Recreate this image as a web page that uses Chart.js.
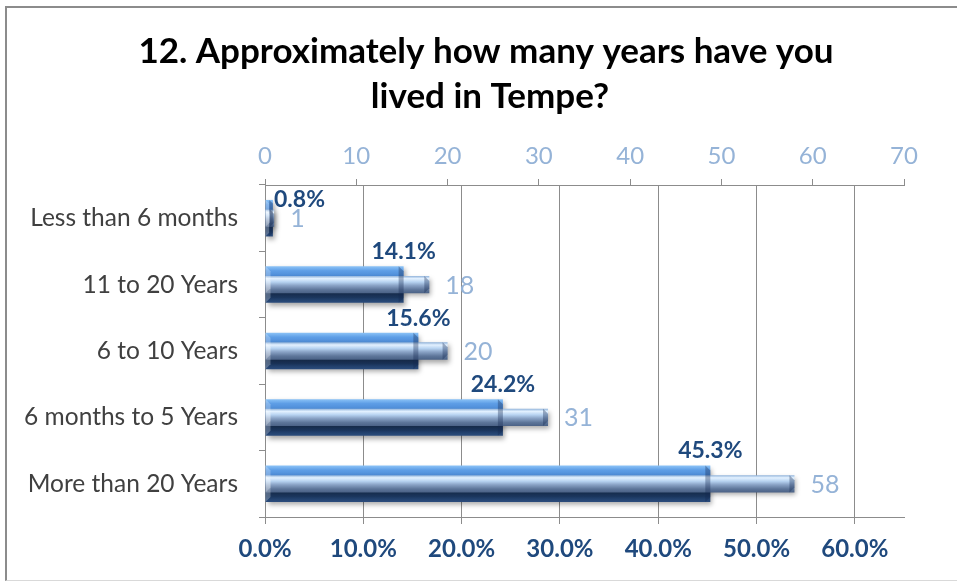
<!DOCTYPE html>
<html><head><meta charset="utf-8">
<script src="https://cdn.jsdelivr.net/npm/chart.js@4.4.0/dist/chart.umd.min.js"></script>
<style>
html,body{margin:0;padding:0;background:#fff;}
#wrap{position:relative;width:957px;height:582px;overflow:hidden;background:#fff;}
#frame{position:absolute;left:5px;top:6px;width:1000px;height:572px;border-left:2px solid #8c8c8c;border-top:2px solid #8c8c8c;border-bottom:1px solid #d9d9d9;}
canvas{position:absolute;left:0;top:0;}
</style></head><body>
<div id="wrap"><div id="frame"></div><canvas id="c" width="957" height="582"></canvas></div>
<script>
const categories = ['Less than 6 months', '11 to 20 Years', '6 to 10 Years', '6 months to 5 Years', 'More than 20 Years'];
const percentValues = [0.8, 14.1, 15.6, 24.2, 45.3];
const countValues = [1, 18, 20, 31, 58];
const percentTicks = [0, 10, 20, 30, 40, 50, 60];
const countTicks = [0, 10, 20, 30, 40, 50, 60, 70];
const titleLines = ['12. Approximately how many years have you', 'lived in Tempe?'];

const PCT_BAR = 0.55, CNT_BAR = 0.26;

function barGradient(stops, frac) {
  return (ctx) => {
    const chart = ctx.chart, area = chart.chartArea, ys = chart.scales.y;
    if (!area || !ys || ctx.dataIndex === undefined) return stops[stops.length - 1][1];
    const yc = ys.getPixelForValue(ctx.dataIndex);
    const h = (area.bottom - area.top) / categories.length * frac;
    const g = chart.ctx.createLinearGradient(0, yc - h / 2, 0, yc + h / 2);
    stops.forEach(s => g.addColorStop(s[0], s[1]));
    return g;
  };
}

const pctStops = [[0, '#8cc3f7'], [0.12, '#5e9ee6'], [0.3, '#4a88d4'], [0.42, '#2f5f9c'], [0.6, '#213f6c'], [0.85, '#1d3a64'], [1, '#2b4c7c']];
const cntStops = [[0, '#8fb2da'], [0.15, '#e3f1ff'], [0.35, '#b7d3f1'], [0.55, '#8aa3c6'], [0.8, '#5d7599'], [1, '#4b6286']];

const titlePlugin = {
  id: 'customTitle',
  afterDraw(chart) {
    const c = chart.ctx;
    c.save();
    c.font = 'bold 35px Lato'; c.fillStyle = '#000'; c.textAlign = 'center'; c.textBaseline = 'middle';
    c.fillText(titleLines[0], 486, 52);
    c.fillText(titleLines[1], 490, 97);
    c.restore();
  }
};

const shadowPlugin = {
  id: 'shadow',
  beforeDatasetsDraw(chart) {
    const c = chart.ctx; c.save();
    c.shadowColor = 'rgba(0,0,0,0.35)'; c.shadowBlur = 5; c.shadowOffsetX = 2; c.shadowOffsetY = 3;
  },
  afterDatasetsDraw(chart) { chart.ctx.restore(); }
};

const bevelPlugin = {
  id: 'bevel',
  afterDatasetsDraw(chart) {
    const c = chart.ctx;
    [0, 1].forEach(di => {
      chart.getDatasetMeta(di).data.forEach(el => {
        const top = el.y - el.height / 2, bot = el.y + el.height / 2;
        const b = Math.min(5, el.height / 3, Math.max(0, (el.x - el.base) / 2));
        c.save();
        c.fillStyle = 'rgba(20,40,80,0.35)';
        c.beginPath(); c.moveTo(el.x - b, top); c.lineTo(el.x, top + b); c.lineTo(el.x, bot - b); c.lineTo(el.x - b, bot); c.closePath(); c.fill();
        c.fillStyle = 'rgba(255,255,255,0.25)';
        c.beginPath(); c.moveTo(el.base, top); c.lineTo(el.base + b, top + b); c.lineTo(el.base + b, bot - b); c.lineTo(el.base, bot); c.closePath(); c.fill();
        c.restore();
      });
    });
  }
};

const labelPlugin = {
  id: 'barLabels',
  afterDatasetsDraw(chart) {
    const c = chart.ctx, area = chart.chartArea;
    const pm = chart.getDatasetMeta(0), cm = chart.getDatasetMeta(1);
    c.save();
    c.font = 'bold 23px Lato'; c.fillStyle = '#1f497d'; c.textAlign = 'center'; c.textBaseline = 'bottom';
    pm.data.forEach((el, i) => {
      const txt = percentValues[i].toFixed(1) + '%';
      const w = c.measureText(txt).width;
      let x = el.x; if (x - w / 2 < area.left + 9) x = area.left + 9 + w / 2;
      let y = el.y - el.height / 2 - 3; y = Math.max(y, area.top + 26);
      c.fillText(txt, x, y);
    });
    c.font = '25px Lato'; c.fillStyle = '#95b3d7'; c.textAlign = 'left'; c.textBaseline = 'middle';
    cm.data.forEach((el, i) => { c.fillText(String(countValues[i]), el.x + 16, el.y + 1); });
    c.restore();
  }
};

new Chart(document.getElementById('c'), {
  type: 'bar',
  data: {
    labels: categories,
    datasets: [
      { label: 'Percent', data: percentValues, xAxisID: 'x', yAxisID: 'y', grouped: false, order: 1,
        categoryPercentage: 1, barPercentage: PCT_BAR, backgroundColor: barGradient(pctStops, PCT_BAR), borderWidth: 0 },
      { label: 'Count', data: countValues, xAxisID: 'x2', yAxisID: 'y', grouped: false, order: 0,
        categoryPercentage: 1, barPercentage: CNT_BAR, backgroundColor: barGradient(cntStops, CNT_BAR), borderWidth: 0 }
    ]
  },
  options: {
    indexAxis: 'y',
    responsive: false,
    animation: false,
    devicePixelRatio: 1,
    layout: { padding: { left: 0, right: 53, top: 120, bottom: 0 } },
    plugins: {
      legend: { display: false },
      tooltip: { enabled: false },
      title: { display: false }
    },
    scales: {
      y: {
        position: 'left',
        afterFit: s => { s.width = 265; },
        grid: { display: true, drawOnChartArea: false, drawTicks: true, tickLength: 6, color: '#8c8c8c', offset: true },
        border: { display: true, color: '#8c8c8c' },
        ticks: { color: '#404040', font: { family: 'Lato', size: 24.5 }, padding: 21 }
      },
      x: {
        position: 'bottom', min: 0, max: 65,
        afterBuildTicks: s => { s.ticks = percentTicks.map(v => ({ value: v })); },
        afterFit: s => { s.height = 65; },
        grid: { color: '#8c8c8c', tickLength: 7, drawOnChartArea: true },
        border: { display: true, color: '#8c8c8c' },
        ticks: { color: '#1f497d', font: { family: 'Lato', size: 24, weight: 'bold' }, padding: 11, callback: v => Number(v).toFixed(1) + '%' }
      },
      x2: {
        position: 'top', min: 0, max: 70,
        afterBuildTicks: s => { s.ticks = countTicks.map(v => ({ value: v })); },
        afterFit: s => { s.height = 65; },
        grid: { drawOnChartArea: false, tickLength: 6, color: '#8c8c8c' },
        border: { display: true, color: '#8c8c8c' },
        ticks: { color: '#95b3d7', font: { family: 'Lato', size: 24 }, padding: 8, callback: v => String(v) }
      }
    }
  },
  plugins: [shadowPlugin, bevelPlugin, labelPlugin, titlePlugin]
});
</script>
</body></html>
